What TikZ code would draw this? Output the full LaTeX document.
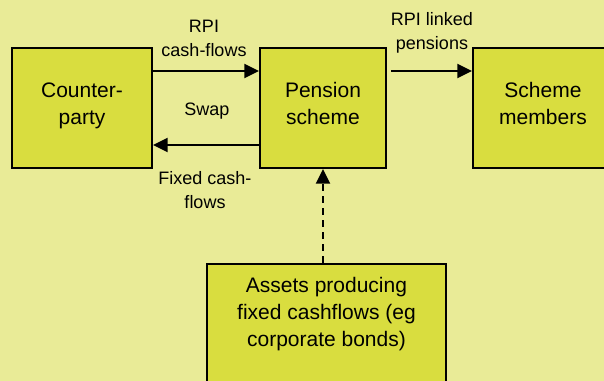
\documentclass[tikz,border=0pt]{standalone}
\usepackage{fontspec}
\setmainfont{Liberation Sans}
\usetikzlibrary{arrows.meta}
\definecolor{bgyellow}{RGB}{233,235,151}
\definecolor{boxgreen}{RGB}{217,221,63}
\begin{document}
\begin{tikzpicture}[x=0.75pt, y=-0.75pt, line width=1.5pt,
    >={Triangle[length=11pt, width=10.5pt]},
    box/.style={draw, fill=boxgreen, line width=1.5pt, inner sep=0pt, minimum height=90pt},
    boxtext/.style={align=center, inner sep=0pt, font=\fontsize{15.75}{20}\selectfont},
    flowlbl/.style={align=center, inner sep=0pt, font=\fontsize{13.5}{18}\selectfont}]
  \useasboundingbox (0,0) rectangle (604,381);
  \fill[bgyellow] (0,0) rectangle (604,381);
  \clip (0,0) rectangle (604,381);
  % boxes
  \node[box, minimum width=105pt] (cparty) at (82,108) {};
  \node[box, minimum width=94.5pt] (pscheme) at (323,108) {};
  \node[box, minimum width=105pt] (members) at (543,108) {};
  \node[box, minimum width=179.25pt, minimum height=105pt] (assets) at (326.5,334) {};
  \node[boxtext] (cpartytext) at ([yshift=1.6pt]cparty.center) {Counter-\\party};
  \node[boxtext] (pschemetext) at ([yshift=3.2pt]pscheme.center) {Pension\\scheme};
  \node[boxtext] (memberstext) at ([yshift=3.2pt]members.center) {Scheme\\members};
  \node[boxtext] (assetstext) at (326.5,314) {Assets producing\\fixed cashflows (eg\\corporate bonds)};
  % flows
  \draw[->] ([yshift=-18pt]cparty.north east) -- ([yshift=-18pt]pscheme.north west);
  \draw[->] ([yshift=18pt]pscheme.south west) -- ([yshift=18pt]cparty.south east);
  \draw[->] ([xshift=3pt, yshift=-18pt]pscheme.north east) -- ([yshift=-18pt]members.north west);
  \draw[->, dash pattern=on 5.25pt off 3.75pt] (assets.north -| pscheme.south) -- (pscheme.south);
  % labels
  \node[flowlbl] (rpilbl) at (204,38) {RPI\\cash-flows};
  \node[flowlbl] (swaplbl) at (207,111) {Swap};
  \node[flowlbl] (fixedlbl) at (205,190) {Fixed cash-\\flows};
  \node[flowlbl] (pensionlbl) at (432,33) {RPI linked\\pensions};
\end{tikzpicture}
\end{document}
